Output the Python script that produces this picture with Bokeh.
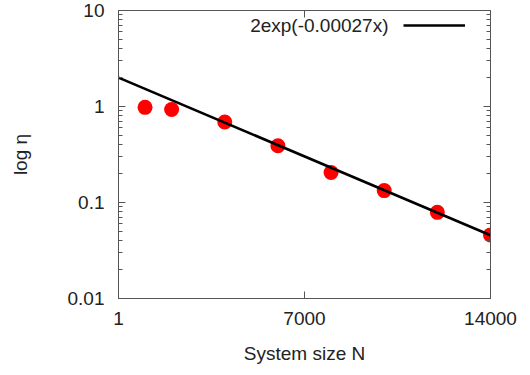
from bokeh.plotting import figure
from bokeh.models import (Range1d, FixedTicker, LinearAxis, LogAxis, Legend, LegendItem,
                          Label, ColumnDataSource)
from bokeh.embed import file_html
from bokeh.resources import INLINE
import math

# ---- data ----
sizes = [1000, 2000, 4000, 6000, 8000, 10000, 12000, 14000]
eta = [0.98, 0.93, 0.69, 0.39, 0.205, 0.133, 0.079, 0.046]
fit_A = 2.0
fit_k = 0.00027
fit_x = [1, 14000]
fit_label = "2exp(-0.00027x)"
x_ticks = [1, 7000, 14000]
x_tick_labels = ["1", "7000", "14000"]
y_ticks = [0.01, 0.1, 1, 10]
y_tick_labels = ["0.01", "0.1", "1", "10"]
x_label = "System size N"
y_label = "log \u03b7"

fit_y = [fit_A * math.exp(-fit_k * v) for v in fit_x]
y_minor = [m * d for d in y_ticks[:-1] for m in range(2, 10)]

FONT = "Liberation Sans"
FS = "19px"
TXT = "#222222"
AX = "#555555"

W, H = 530, 375
BT, BB = 10, 77
p = figure(width=W, height=H, output_backend="svg", toolbar_location=None,
           y_axis_type="log", x_range=Range1d(1, 14000), y_range=Range1d(0.01, 10),
           min_border_left=118, min_border_right=40, min_border_top=BT, min_border_bottom=BB)
p.xgrid.visible = False
p.ygrid.visible = False
p.outline_line_color = AX
p.outline_line_width = 1
p.background_fill_color = "white"
p.border_fill_color = "white"

def style(ax, labels=True):
    ax.axis_line_color = AX
    ax.major_tick_line_color = AX
    ax.minor_tick_line_color = AX
    ax.major_tick_in = 7
    ax.major_tick_out = 0
    ax.minor_tick_in = 4
    ax.minor_tick_out = 0
    ax.major_label_text_font = FONT
    ax.major_label_text_font_size = FS if labels else "0px"
    ax.major_label_text_color = TXT
    ax.axis_label_text_font = FONT
    ax.axis_label_text_font_size = FS
    ax.axis_label_text_font_style = "normal"
    ax.axis_label_text_color = TXT

xt = FixedTicker(ticks=x_ticks, minor_ticks=[])
yt = FixedTicker(ticks=y_ticks, minor_ticks=y_minor)

xa = p.xaxis[0]
xa.ticker = xt
xa.major_label_overrides = dict(zip(x_ticks, x_tick_labels))
xa.axis_label = x_label
style(xa)
xa.major_label_standoff = 13
xa.axis_label_standoff = 15

ya = p.yaxis[0]
ya.ticker = yt
ya.major_label_overrides = dict(zip(y_ticks, y_tick_labels))
ya.axis_label = y_label
style(ya)
ya.major_label_standoff = 14
ya.axis_label_standoff = 34

top = LinearAxis(ticker=FixedTicker(ticks=x_ticks, minor_ticks=[]))
style(top, labels=False)
top.major_label_overrides = {t: "" for t in x_ticks}
p.add_layout(top, "above")
right = LogAxis(ticker=FixedTicker(ticks=y_ticks, minor_ticks=y_minor))
style(right, labels=False)
right.major_label_overrides = {t: "" for t in y_ticks}
p.add_layout(right, "right")
top.major_label_standoff = 0
right.major_label_standoff = 0

src = ColumnDataSource(dict(x=sizes, y=eta))
p.scatter("x", "y", source=src, size=15, fill_color="#ff0000", line_color=None)
fsrc = ColumnDataSource(dict(x=fit_x, y=fit_y))
lr = p.line("x", "y", source=fsrc, line_color="black", line_width=2.6)

frame_h = H - BT - BB
leg = Legend(items=[LegendItem(label=" ", renderers=[lr])], location=(285, frame_h - 15 - 5),
             glyph_width=62, glyph_height=10, label_height=10, label_width=1,
             padding=0, margin=0, spacing=0, label_standoff=0,
             border_line_alpha=0, background_fill_alpha=0,
             label_text_font_size="1px")
p.add_layout(leg, "center")
p.add_layout(Label(x=270, y=frame_h - 15, x_units="screen", y_units="screen", text=fit_label,
                   text_align="right", text_baseline="middle", text_font=FONT,
                   text_font_size=FS, text_color=TXT))

open("out.html", "w").write(file_html(p, INLINE))
